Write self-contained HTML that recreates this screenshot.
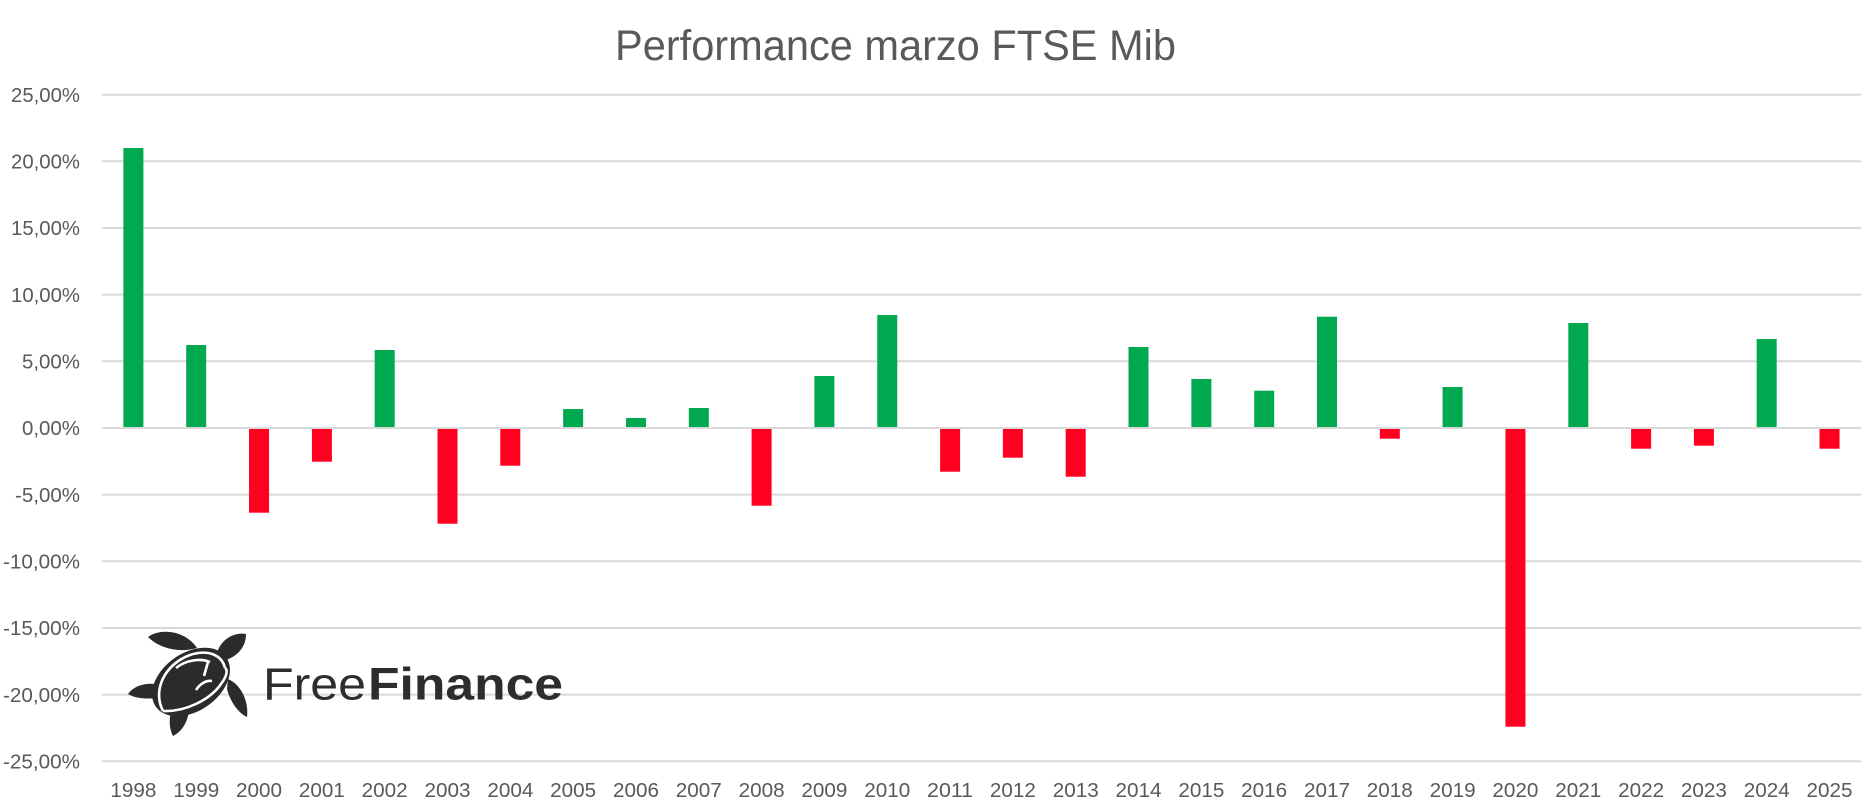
<!DOCTYPE html>
<html>
<head>
<meta charset="utf-8">
<style>
  html,body{margin:0;padding:0;background:#fff;}
  body{width:1872px;height:808px;overflow:hidden;}
  svg{display:block;}
  text{font-family:"Liberation Sans",sans-serif;fill:#595959;}
</style>
</head>
<body>
<svg width="1872" height="808" viewBox="0 0 1872 808" xmlns="http://www.w3.org/2000/svg">
  <rect width="1872" height="808" fill="#fff"/>
  <!-- title -->
  <text x="615" y="60" font-size="43" textLength="561" lengthAdjust="spacingAndGlyphs">Performance marzo FTSE Mib</text>

  <!-- gridlines -->
  <g stroke="#d9d9d9" stroke-width="2">
    <line x1="102" x2="1861" y1="94.7" y2="94.7"/>
    <line x1="102" x2="1861" y1="161.3" y2="161.3"/>
    <line x1="102" x2="1861" y1="228" y2="228"/>
    <line x1="102" x2="1861" y1="294.6" y2="294.6"/>
    <line x1="102" x2="1861" y1="361.3" y2="361.3"/>
    <line x1="102" x2="1861" y1="494.6" y2="494.6"/>
    <line x1="102" x2="1861" y1="561.3" y2="561.3"/>
    <line x1="102" x2="1861" y1="628" y2="628"/>
    <line x1="102" x2="1861" y1="694.6" y2="694.6"/>
    <line x1="102" x2="1861" y1="761.3" y2="761.3"/>
  </g>

  <!-- y labels -->
  <g font-size="20" text-anchor="end">
    <text x="80" y="101.9" textLength="69" lengthAdjust="spacingAndGlyphs">25,00%</text>
    <text x="80" y="168.5" textLength="69" lengthAdjust="spacingAndGlyphs">20,00%</text>
    <text x="80" y="235.2" textLength="69" lengthAdjust="spacingAndGlyphs">15,00%</text>
    <text x="80" y="301.8" textLength="69" lengthAdjust="spacingAndGlyphs">10,00%</text>
    <text x="80" y="368.5" textLength="58" lengthAdjust="spacingAndGlyphs">5,00%</text>
    <text x="80" y="435.2" textLength="58" lengthAdjust="spacingAndGlyphs">0,00%</text>
    <text x="80" y="501.8" textLength="65" lengthAdjust="spacingAndGlyphs">-5,00%</text>
    <text x="80" y="568.5" textLength="77" lengthAdjust="spacingAndGlyphs">-10,00%</text>
    <text x="80" y="635.2" textLength="77" lengthAdjust="spacingAndGlyphs">-15,00%</text>
    <text x="80" y="701.8" textLength="77" lengthAdjust="spacingAndGlyphs">-20,00%</text>
    <text x="80" y="768.5" textLength="77" lengthAdjust="spacingAndGlyphs">-25,00%</text>
  </g>

  <!-- logo -->
  <g fill="#2b2b2b">
    <path d="M148,637 C160,628 185,630 197,648 C180,653 160,649 148,637 Z"/>
    <path d="M217,653 C221,639 234,632 246,634 C246,648 236,658 222,661 Z"/>
    <path d="M128,694 C135,684 150,682 160,685 L158,698 C148,699 136,699 128,694 Z"/>
    <path d="M228,679 C240,684 249,700 247,717 C238,713 230,701 227,689 Z"/>
    <path d="M171,711 L189,711 C187,724 181,732 173,736 C169,728 169,720 171,711 Z"/>
    <ellipse cx="191" cy="682" rx="43" ry="29" transform="rotate(-35 191 682)"/>
  </g>
  <g fill="none" stroke="#fff" stroke-width="2.6">
    <path d="M163,711 C152,690 165,664 190,655 C208,649 222,655 225,668"/>
    <path d="M163,711 C185,712 210,700 221,684 C227,676 228,670 225,668"/>
    <path d="M176,668 C186,660 200,658 210,662"/>
    <path d="M196,690 C200,684 206,680 212,681"/>
    <path d="M208,662 L204,676"/>
  </g>
  <text x="263" y="699.3" font-size="45" textLength="103" lengthAdjust="spacingAndGlyphs" style="fill:#2d2d2d">Free</text>
  <text x="368" y="699.3" font-size="45" font-weight="bold" textLength="195" lengthAdjust="spacingAndGlyphs" style="fill:#2d2d2d">Finance</text>

  <!-- bars -->
  <g fill="#00a84f">
    <rect x="123.4" y="148" width="20" height="280"/>
    <rect x="186.2" y="345" width="20" height="83"/>
    <rect x="374.7" y="350" width="20" height="78"/>
    <rect x="563.15" y="409" width="20" height="19"/>
    <rect x="626" y="418" width="20" height="10"/>
    <rect x="688.8" y="408" width="20" height="20"/>
    <rect x="814.4" y="376" width="20" height="52"/>
    <rect x="877.25" y="315" width="20" height="113"/>
    <rect x="1128.5" y="347" width="20" height="81"/>
    <rect x="1191.35" y="379" width="20" height="49"/>
    <rect x="1254.2" y="390.7" width="20" height="37.3"/>
    <rect x="1317" y="316.7" width="20" height="111.3"/>
    <rect x="1442.6" y="387" width="20" height="41"/>
    <rect x="1568.3" y="323" width="20" height="105"/>
    <rect x="1756.7" y="339" width="20" height="89"/>
  </g>
  <g fill="#ff0020">
    <rect x="249.05" y="428" width="20" height="84.7"/>
    <rect x="311.9" y="428" width="20" height="33.7"/>
    <rect x="437.5" y="428" width="20" height="95.7"/>
    <rect x="500.3" y="428" width="20" height="37.7"/>
    <rect x="751.6" y="428" width="20" height="77.7"/>
    <rect x="940.1" y="428" width="20" height="43.7"/>
    <rect x="1002.9" y="428" width="20" height="29.7"/>
    <rect x="1065.7" y="428" width="20" height="48.7"/>
    <rect x="1379.8" y="428" width="20" height="10.7"/>
    <rect x="1505.45" y="428" width="20" height="298.7"/>
    <rect x="1631.1" y="428" width="20" height="20.7"/>
    <rect x="1693.9" y="428" width="20" height="17.7"/>
    <rect x="1819.55" y="428" width="20" height="20.7"/>
  </g>
  <!-- zero axis line on top -->
  <line x1="102" x2="1861" y1="428" y2="428" stroke="#d9d9d9" stroke-width="2"/>

  <!-- x labels -->
  <g font-size="20" text-anchor="middle">
    <text x="133.41" y="797" textLength="46" lengthAdjust="spacingAndGlyphs">1998</text>
    <text x="196.23" y="797" textLength="46" lengthAdjust="spacingAndGlyphs">1999</text>
    <text x="259.05" y="797" textLength="46" lengthAdjust="spacingAndGlyphs">2000</text>
    <text x="321.87" y="797" textLength="46" lengthAdjust="spacingAndGlyphs">2001</text>
    <text x="384.69" y="797" textLength="46" lengthAdjust="spacingAndGlyphs">2002</text>
    <text x="447.51" y="797" textLength="46" lengthAdjust="spacingAndGlyphs">2003</text>
    <text x="510.33" y="797" textLength="46" lengthAdjust="spacingAndGlyphs">2004</text>
    <text x="573.15" y="797" textLength="46" lengthAdjust="spacingAndGlyphs">2005</text>
    <text x="635.97" y="797" textLength="46" lengthAdjust="spacingAndGlyphs">2006</text>
    <text x="698.79" y="797" textLength="46" lengthAdjust="spacingAndGlyphs">2007</text>
    <text x="761.61" y="797" textLength="46" lengthAdjust="spacingAndGlyphs">2008</text>
    <text x="824.43" y="797" textLength="46" lengthAdjust="spacingAndGlyphs">2009</text>
    <text x="887.25" y="797" textLength="46" lengthAdjust="spacingAndGlyphs">2010</text>
    <text x="950.07" y="797" textLength="46" lengthAdjust="spacingAndGlyphs">2011</text>
    <text x="1012.89" y="797" textLength="46" lengthAdjust="spacingAndGlyphs">2012</text>
    <text x="1075.71" y="797" textLength="46" lengthAdjust="spacingAndGlyphs">2013</text>
    <text x="1138.53" y="797" textLength="46" lengthAdjust="spacingAndGlyphs">2014</text>
    <text x="1201.35" y="797" textLength="46" lengthAdjust="spacingAndGlyphs">2015</text>
    <text x="1264.17" y="797" textLength="46" lengthAdjust="spacingAndGlyphs">2016</text>
    <text x="1326.99" y="797" textLength="46" lengthAdjust="spacingAndGlyphs">2017</text>
    <text x="1389.81" y="797" textLength="46" lengthAdjust="spacingAndGlyphs">2018</text>
    <text x="1452.63" y="797" textLength="46" lengthAdjust="spacingAndGlyphs">2019</text>
    <text x="1515.45" y="797" textLength="46" lengthAdjust="spacingAndGlyphs">2020</text>
    <text x="1578.27" y="797" textLength="46" lengthAdjust="spacingAndGlyphs">2021</text>
    <text x="1641.09" y="797" textLength="46" lengthAdjust="spacingAndGlyphs">2022</text>
    <text x="1703.91" y="797" textLength="46" lengthAdjust="spacingAndGlyphs">2023</text>
    <text x="1766.73" y="797" textLength="46" lengthAdjust="spacingAndGlyphs">2024</text>
    <text x="1829.55" y="797" textLength="46" lengthAdjust="spacingAndGlyphs">2025</text>
  </g>
</svg>
</body>
</html>
